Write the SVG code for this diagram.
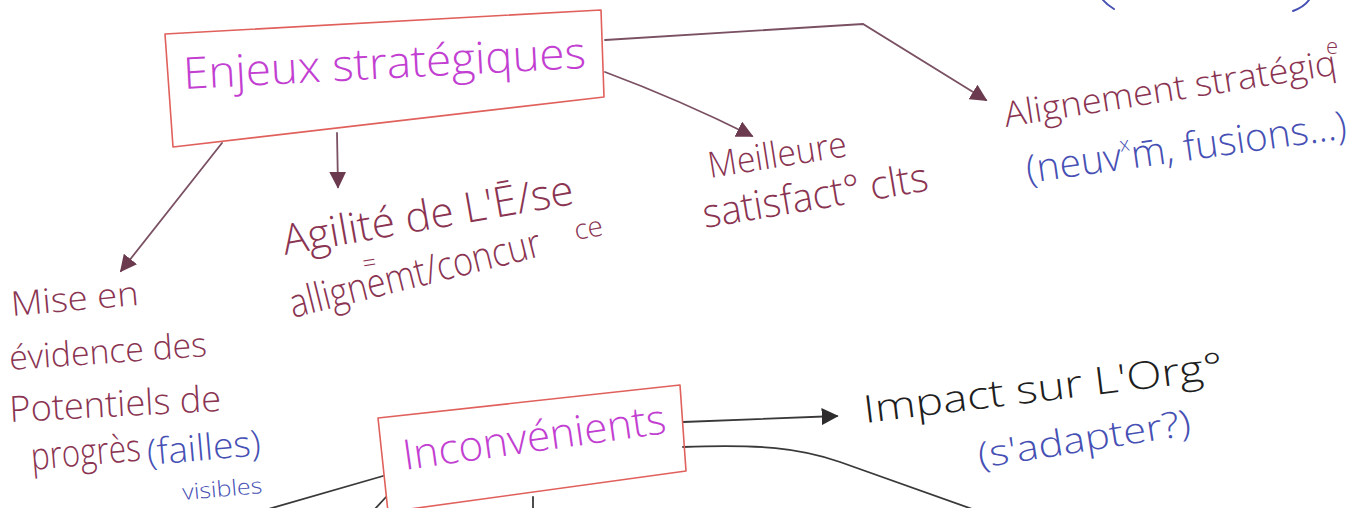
<svg xmlns="http://www.w3.org/2000/svg" width="1367" height="508" viewBox="0 0 1367 508">
  <style>
    .hand { font-family: "Open Sans", "DejaVu Sans", sans-serif; font-weight: 300; }
    .maroon { fill: #8a3452; }
    .blue { fill: #4650b4; }
    .black { fill: #1e1e1e; }
    .magenta { fill: #c23fd2; }
    .box { fill: none; stroke: #e0605c; stroke-width: 1.6; stroke-linejoin: round; }
    .link { fill: none; stroke: #7a5063; stroke-width: 1.8; stroke-linecap: round; }
    .link-dark { fill: none; stroke: #3a3838; stroke-width: 1.8; stroke-linecap: round; }
    .ink-blue { fill: none; stroke: #4650b4; stroke-width: 2; stroke-linecap: round; }
  </style>
  <defs>
    <marker id="tri" viewBox="0 0 10 10" refX="9" refY="5" markerWidth="17" markerHeight="17" markerUnits="userSpaceOnUse" orient="auto">
      <path d="M0,0 L10,5 L0,10 z" fill="#6b3a4f"/>
    </marker>
    <marker id="tri-dark" viewBox="0 0 10 10" refX="9" refY="5" markerWidth="17" markerHeight="17" markerUnits="userSpaceOnUse" orient="auto">
      <path d="M0,0 L10,5 L0,10 z" fill="#2e2c2c"/>
    </marker>
  </defs>

  <rect width="1367" height="508" fill="#ffffff"/>

  <!-- connectors -->
  <g id="connectors">
    <path class="link" d="M605,40 L863,24 L986,100" marker-end="url(#tri)"/>
    <path class="link" d="M605,72 Q680,100 752,136" marker-end="url(#tri)"/>
    <path class="link" d="M337,133 L338,187" marker-end="url(#tri)"/>
    <path class="link" d="M222,143 L121,271" marker-end="url(#tri)"/>
    <path class="link-dark" d="M683,422 L837,416" marker-end="url(#tri-dark)"/>
    <path class="link-dark" d="M683,447 C760,444 800,448 840,462 L975,510"/>
    <path class="link-dark" d="M383,476 L265,510"/>
    <path class="link-dark" d="M386,497 L374,510"/>
    <path class="link-dark" d="M533,497 L533,510"/>
  </g>

  <!-- central topic: strategic stakes -->
  <g id="enjeux">
    <polygon class="box" points="165,34 601,10 604,97 173,147"/>
    <text class="hand magenta" x="184" y="89" font-size="44" textLength="403" lengthAdjust="spacingAndGlyphs" transform="rotate(-3 184 89)">Enjeux stratégiques</text>
  </g>

  <g id="alignement">
    <text class="hand maroon" x="1006" y="127" font-size="35" textLength="336" lengthAdjust="spacingAndGlyphs" transform="rotate(-9 1006 127)">Alignement stratégiq</text>
    <text class="hand maroon" x="1326" y="54" font-size="22">e</text>
    <text class="hand blue" x="1028" y="183" font-size="39" transform="rotate(-8 1028 183)">(neuv<tspan font-size="20" dy="-18">x</tspan><tspan dy="18">m̄, fusions...)</tspan></text>
  </g>

  <!-- fragment of a note above -->
  <g id="note-top">
    <path class="ink-blue" d="M1103,0 Q1107,5 1114,9"/>
    <path class="ink-blue" d="M1309,0 Q1304,7 1293,11"/>
  </g>

  <g id="meilleure">
    <text class="hand maroon" x="710" y="178" font-size="36" textLength="140" lengthAdjust="spacingAndGlyphs" transform="rotate(-9 710 178)">Meilleure</text>
    <text class="hand maroon" x="705" y="228" font-size="40" textLength="228" lengthAdjust="spacingAndGlyphs" transform="rotate(-9.5 705 228)">satisfact° clts</text>
  </g>

  <g id="agilite">
    <text class="hand maroon" x="285" y="255" font-size="42" textLength="295" lengthAdjust="spacingAndGlyphs" transform="rotate(-10 285 255)">Agilité de L'Ē/se</text>
    <text class="hand maroon" x="576" y="240" font-size="28" transform="rotate(-10 576 240)">ce</text>
    <text class="hand maroon" x="364" y="272" font-size="24" transform="rotate(-10 364 272)">=</text>
    <text class="hand maroon" x="293" y="318" font-size="40" textLength="258" lengthAdjust="spacingAndGlyphs" transform="rotate(-14 293 318)">allignemt/concur</text>
  </g>

  <g id="mise-en-evidence">
    <text class="hand maroon" x="12" y="316" font-size="34" textLength="128" lengthAdjust="spacingAndGlyphs" transform="rotate(-5 12 316)">Mise en</text>
    <text class="hand maroon" x="10" y="370" font-size="34" textLength="198" lengthAdjust="spacingAndGlyphs" transform="rotate(-4 10 370)">évidence des</text>
    <text class="hand maroon" x="10" y="422" font-size="36" textLength="212" lengthAdjust="spacingAndGlyphs" transform="rotate(-3 10 422)">Potentiels de</text>
    <text class="hand maroon" x="32" y="470" font-size="38" textLength="110" lengthAdjust="spacingAndGlyphs" transform="rotate(-5 32 470)">progrès</text>
    <text class="hand blue" x="148" y="465" font-size="36" textLength="114" lengthAdjust="spacingAndGlyphs" transform="rotate(-5 148 465)">(failles)</text>
    <text class="hand blue" x="183" y="500" font-size="22" textLength="80" lengthAdjust="spacingAndGlyphs" transform="rotate(-5 183 500)">visibles</text>
  </g>

  <!-- second topic: drawbacks -->
  <g id="inconvenients">
    <polygon class="box" points="378,418 680,385 686,471 388,512"/>
    <text class="hand magenta" x="405" y="470" font-size="42" textLength="265" lengthAdjust="spacingAndGlyphs" transform="rotate(-8 405 470)">Inconvénients</text>
  </g>

  <g id="impact">
    <text class="hand black" x="865" y="423" font-size="38" textLength="362" lengthAdjust="spacingAndGlyphs" transform="rotate(-7 865 423)">Impact sur L'Org°</text>
    <text class="hand blue" x="980" y="468" font-size="36" textLength="215" lengthAdjust="spacingAndGlyphs" transform="rotate(-9 980 468)">(s'adapter?)</text>
  </g>
</svg>
